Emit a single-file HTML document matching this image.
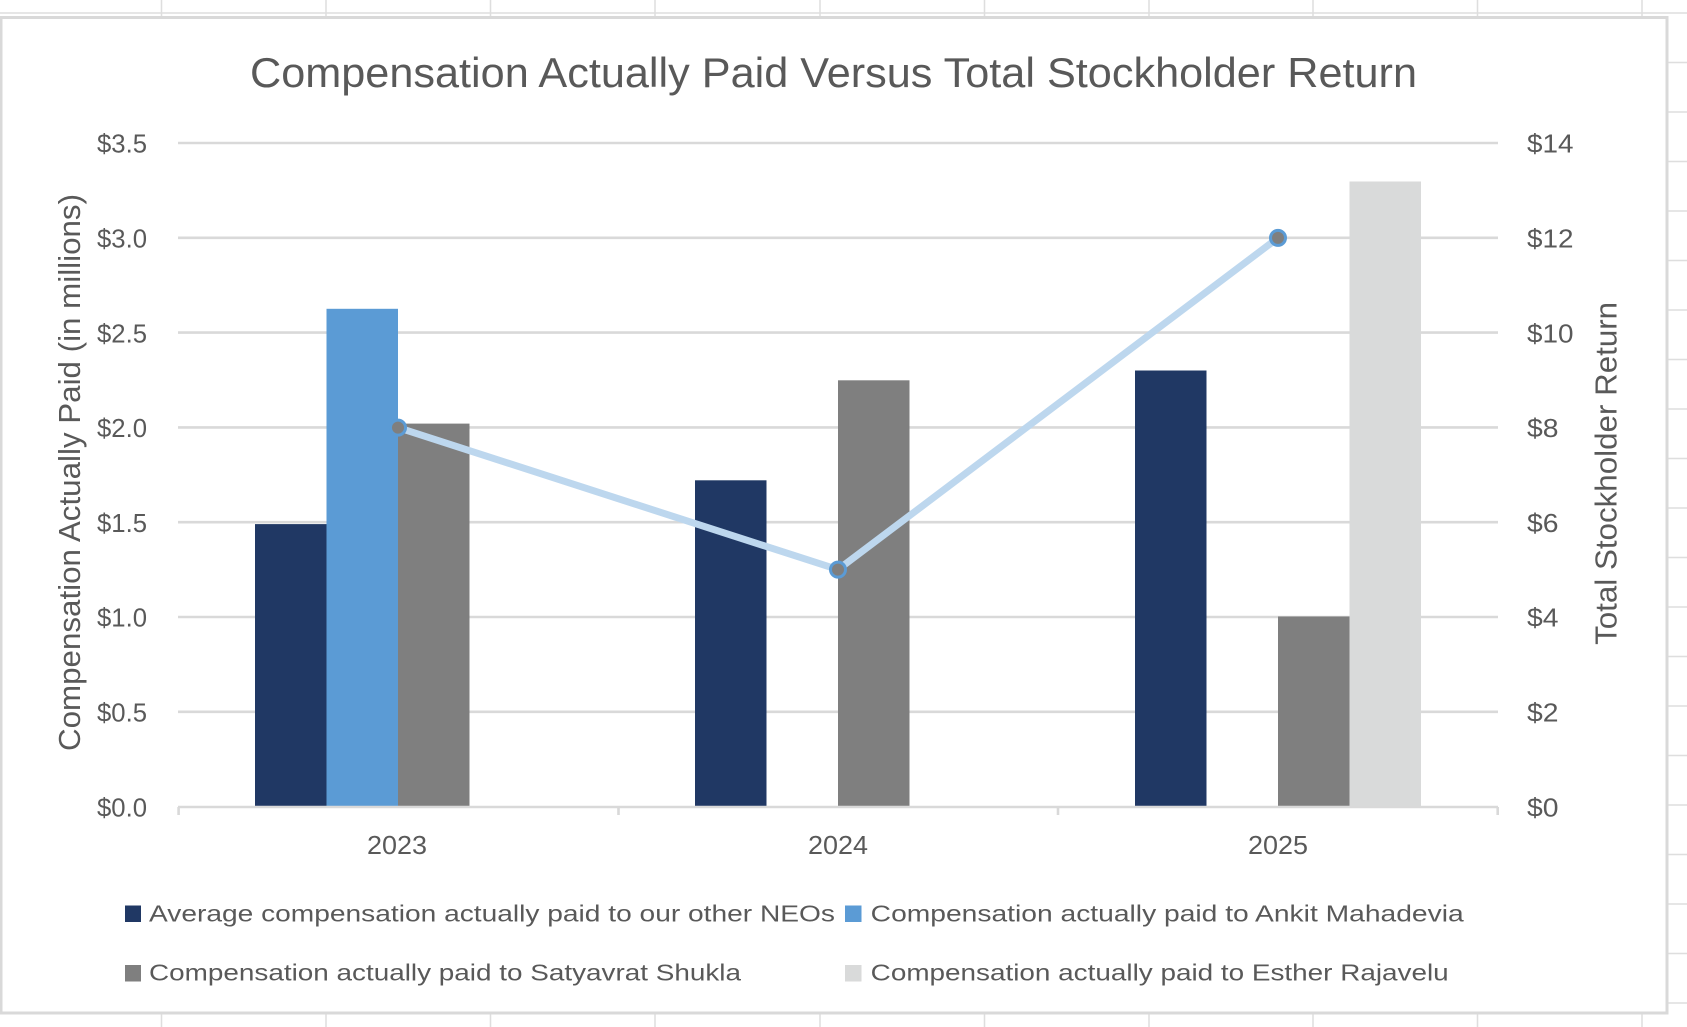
<!DOCTYPE html>
<html>
<head>
<meta charset="utf-8">
<style>
  html, body { margin: 0; padding: 0; background: #ffffff; }
  body { width: 1687px; height: 1027px; overflow: hidden; }
  svg { display: block; }
  text { font-family: "Liberation Sans", "DejaVu Sans", sans-serif; fill: #595959; }
</style>
</head>
<body>
<svg width="1687" height="1027" viewBox="0 0 1687 1027" xmlns="http://www.w3.org/2000/svg">
  <!-- spreadsheet background grid -->
  <rect x="0" y="0" width="1687" height="1027" fill="#ffffff"/>
  <g stroke="#dedede" stroke-width="1.5">
    <line x1="0" y1="13" x2="1687" y2="13"/>
    <line x1="161.5" y1="0" x2="161.5" y2="1027"/>
    <line x1="326" y1="0" x2="326" y2="1027"/>
    <line x1="490.5" y1="0" x2="490.5" y2="1027"/>
    <line x1="655" y1="0" x2="655" y2="1027"/>
    <line x1="820" y1="0" x2="820" y2="1027"/>
    <line x1="984.5" y1="0" x2="984.5" y2="1027"/>
    <line x1="1149" y1="0" x2="1149" y2="1027"/>
    <line x1="1313" y1="0" x2="1313" y2="1027"/>
    <line x1="1477.5" y1="0" x2="1477.5" y2="1027"/>
    <line x1="1642" y1="0" x2="1642" y2="1027"/>
    <line x1="1660" y1="62.5" x2="1687" y2="62.5"/>
    <line x1="1660" y1="112" x2="1687" y2="112"/>
    <line x1="1660" y1="161.5" x2="1687" y2="161.5"/>
    <line x1="1660" y1="211" x2="1687" y2="211"/>
    <line x1="1660" y1="260.5" x2="1687" y2="260.5"/>
    <line x1="1660" y1="310" x2="1687" y2="310"/>
    <line x1="1660" y1="359.5" x2="1687" y2="359.5"/>
    <line x1="1660" y1="409" x2="1687" y2="409"/>
    <line x1="1660" y1="458.5" x2="1687" y2="458.5"/>
    <line x1="1660" y1="508" x2="1687" y2="508"/>
    <line x1="1660" y1="557.5" x2="1687" y2="557.5"/>
    <line x1="1660" y1="607" x2="1687" y2="607"/>
    <line x1="1660" y1="656.5" x2="1687" y2="656.5"/>
    <line x1="1660" y1="706" x2="1687" y2="706"/>
    <line x1="1660" y1="755.5" x2="1687" y2="755.5"/>
    <line x1="1660" y1="805" x2="1687" y2="805"/>
    <line x1="1660" y1="854.5" x2="1687" y2="854.5"/>
    <line x1="1660" y1="904" x2="1687" y2="904"/>
    <line x1="1660" y1="953.5" x2="1687" y2="953.5"/>
    <line x1="1660" y1="1003" x2="1687" y2="1003"/>
  </g>

  <!-- chart area -->
  <rect x="1" y="17.5" width="1666" height="995.5" fill="#ffffff" stroke="#d9d9d9" stroke-width="3"/>

  <!-- title -->
  <text x="250" y="87" font-size="42" textLength="1167" lengthAdjust="spacingAndGlyphs">Compensation Actually Paid Versus Total Stockholder Return</text>

  <!-- gridlines -->
  <g stroke="#d9d9d9" stroke-width="2.6">
    <line x1="178" y1="143" x2="1498" y2="143"/>
    <line x1="178" y1="237.8" x2="1498" y2="237.8"/>
    <line x1="178" y1="332.6" x2="1498" y2="332.6"/>
    <line x1="178" y1="427.4" x2="1498" y2="427.4"/>
    <line x1="178" y1="522.2" x2="1498" y2="522.2"/>
    <line x1="178" y1="617" x2="1498" y2="617"/>
    <line x1="178" y1="711.8" x2="1498" y2="711.8"/>
  </g>

  <!-- bars -->
  <!-- 2023 -->
  <rect x="255" y="524.1" width="71.5" height="282.7" fill="#203864"/>
  <rect x="326.5" y="308.8" width="71.5" height="498" fill="#5b9bd5"/>
  <rect x="398" y="423.6" width="71.5" height="383.2" fill="#7f7f7f"/>
  <!-- 2024 -->
  <rect x="695" y="480.3" width="71.5" height="326.5" fill="#203864"/>
  <rect x="838" y="380.3" width="71.5" height="426.5" fill="#7f7f7f"/>
  <!-- 2025 -->
  <rect x="1135" y="370.5" width="71.5" height="436.3" fill="#203864"/>
  <rect x="1278" y="616.5" width="71.5" height="190.3" fill="#7f7f7f"/>
  <rect x="1349.5" y="181.5" width="71.5" height="625.3" fill="#d9dada"/>

  <!-- x axis line and ticks -->
  <g stroke="#d9d9d9" stroke-width="2.6">
    <line x1="178" y1="807" x2="1498" y2="807"/>
    <line x1="178.6" y1="807" x2="178.6" y2="815"/>
    <line x1="618.5" y1="807" x2="618.5" y2="815"/>
    <line x1="1058" y1="807" x2="1058" y2="815"/>
    <line x1="1497.7" y1="807" x2="1497.7" y2="815"/>
  </g>

  <!-- TSR line -->
  <polyline points="398,427.6 838,569.6 1278,237.9" fill="none" stroke="#bdd7ee" stroke-width="7" stroke-linejoin="round" stroke-linecap="round"/>
  <g fill="#7f7f7f" stroke="#5b9bd5" stroke-width="3">
    <circle cx="398" cy="427.6" r="7.5"/>
    <circle cx="838" cy="569.6" r="7.5"/>
    <circle cx="1278" cy="237.9" r="7.5"/>
  </g>

  <!-- left axis labels -->
  <g font-size="26">
    <text x="97" y="152.7" textLength="50" lengthAdjust="spacingAndGlyphs">$3.5</text>
    <text x="97" y="247.5" textLength="50" lengthAdjust="spacingAndGlyphs">$3.0</text>
    <text x="97" y="342.3" textLength="50" lengthAdjust="spacingAndGlyphs">$2.5</text>
    <text x="97" y="437.1" textLength="50" lengthAdjust="spacingAndGlyphs">$2.0</text>
    <text x="97" y="531.9" textLength="50" lengthAdjust="spacingAndGlyphs">$1.5</text>
    <text x="97" y="626.7" textLength="50" lengthAdjust="spacingAndGlyphs">$1.0</text>
    <text x="97" y="721.5" textLength="50" lengthAdjust="spacingAndGlyphs">$0.5</text>
    <text x="97" y="816.5" textLength="50" lengthAdjust="spacingAndGlyphs">$0.0</text>
  </g>

  <!-- right axis labels -->
  <g font-size="26">
    <text x="1527" y="152.7" textLength="46.5" lengthAdjust="spacingAndGlyphs">$14</text>
    <text x="1527" y="247.5" textLength="46.5" lengthAdjust="spacingAndGlyphs">$12</text>
    <text x="1527" y="342.3" textLength="46.5" lengthAdjust="spacingAndGlyphs">$10</text>
    <text x="1527" y="437.1" textLength="31.5" lengthAdjust="spacingAndGlyphs">$8</text>
    <text x="1527" y="531.9" textLength="31.5" lengthAdjust="spacingAndGlyphs">$6</text>
    <text x="1527" y="626.7" textLength="31.5" lengthAdjust="spacingAndGlyphs">$4</text>
    <text x="1527" y="721.5" textLength="31.5" lengthAdjust="spacingAndGlyphs">$2</text>
    <text x="1527" y="816.5" textLength="31.5" lengthAdjust="spacingAndGlyphs">$0</text>
  </g>

  <!-- category labels -->
  <g font-size="26">
    <text x="367" y="854" textLength="60" lengthAdjust="spacingAndGlyphs">2023</text>
    <text x="808" y="854" textLength="60" lengthAdjust="spacingAndGlyphs">2024</text>
    <text x="1248" y="854" textLength="60" lengthAdjust="spacingAndGlyphs">2025</text>
  </g>

  <!-- axis titles -->
  <text transform="translate(80,472.5) rotate(-90)" x="0" y="0" font-size="31" text-anchor="middle" textLength="557" lengthAdjust="spacingAndGlyphs">Compensation Actually Paid (in millions)</text>
  <text transform="translate(1616.5,473.4) rotate(-90)" x="0" y="0" font-size="31" text-anchor="middle" textLength="343" lengthAdjust="spacingAndGlyphs">Total Stockholder Return</text>

  <!-- legend -->
  <rect x="125" y="905.5" width="16" height="16.5" fill="#203864"/>
  <text x="149" y="921.7" font-size="23" textLength="686" lengthAdjust="spacingAndGlyphs">Average compensation actually paid to our other NEOs</text>
  <rect x="845" y="905.5" width="16.5" height="16.5" fill="#5b9bd5"/>
  <text x="870.7" y="921.7" font-size="23" textLength="593" lengthAdjust="spacingAndGlyphs">Compensation actually paid to Ankit Mahadevia</text>
  <rect x="125" y="965" width="16" height="16.5" fill="#7f7f7f"/>
  <text x="149" y="980.5" font-size="23" textLength="592" lengthAdjust="spacingAndGlyphs">Compensation actually paid to Satyavrat Shukla</text>
  <rect x="845" y="965" width="16.5" height="16.5" fill="#d9dada"/>
  <text x="870.7" y="980.5" font-size="23" textLength="578" lengthAdjust="spacingAndGlyphs">Compensation actually paid to Esther Rajavelu</text>
</svg>
</body>
</html>
